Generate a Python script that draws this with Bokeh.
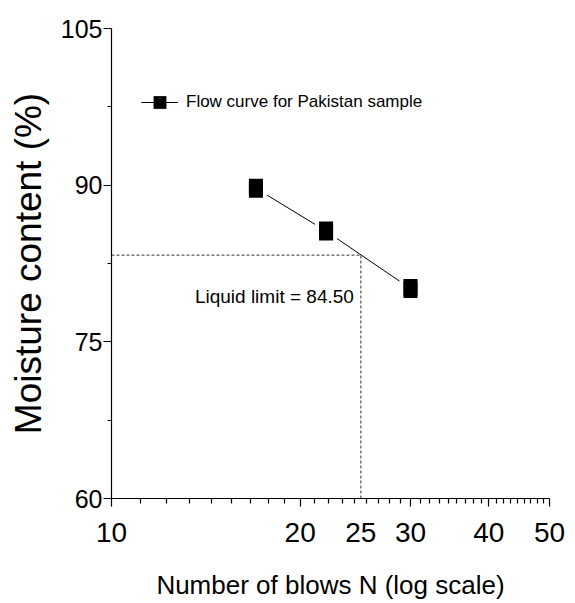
from bokeh.plotting import figure
from bokeh.models import (FixedTicker, Label, Legend, LegendItem, Range1d, LogAxis,
                          CustomLabelingPolicy)
from bokeh.embed import file_html
from bokeh.resources import INLINE

FONT = "Liberation Sans"

# ---- data ----
blows = [17, 22, 30]
moisture = [89.7, 85.6, 80.1]
series_label = "Flow curve for Pakistan sample"
ll_blows = 25
ll_moisture = 83.3
ll_text = "Liquid limit = 84.50"
x_ticks = [10, 20, 30, 40, 50]
x_labels = [10, 20, 25, 30, 40, 50]
y_ticks = [60, 75, 90, 105]
x_title = "Number of blows N (log scale)"
y_title = "Moisture content (%)"

x_minor = [a + k * (b - a) / 9 for a, b in zip(x_ticks[:-1], x_ticks[1:]) for k in range(1, 9)]
y_minor = [(a + b) / 2 for a, b in zip(y_ticks[:-1], y_ticks[1:])]

p = figure(frame_width=438, frame_height=470, x_axis_type="log",
           x_range=Range1d(x_ticks[0], x_ticks[-1]), y_range=Range1d(y_ticks[0], y_ticks[-1]),
           output_backend="svg", toolbar_location=None,
           min_border_left=111, min_border_top=28, min_border_right=20, min_border_bottom=105)
p.outline_line_color = None
p.xgrid.visible = False
p.ygrid.visible = False
p.background_fill_color = "white"

# dashed liquid-limit guides
p.line(x=[x_ticks[0], ll_blows], y=[ll_moisture, ll_moisture], line_color="#333333",
       line_width=1, line_dash="3 2")
p.line(x=[ll_blows, ll_blows], y=[y_ticks[0], ll_moisture], line_color="#333333",
       line_width=1, line_dash="3 2")

# flow curve
line_r = p.line(x=blows, y=moisture, line_color="black", line_width=1)
p.rect(x=blows, y=moisture, width=22, height=27, width_units="screen", height_units="screen",
       fill_color="white", line_color=None)
p.rect(x=blows, y=moisture, width=14, height=19, width_units="screen", height_units="screen",
       fill_color="black", line_color=None)
sq_r = p.scatter(x=blows, y=moisture, marker="square", size=14, fill_color="black", line_color=None)

legend = Legend(items=[LegendItem(label=series_label, renderers=[line_r, sq_r])],
                location=(30, 380), glyph_width=37, glyph_height=32, label_standoff=8,
                padding=0, margin=0, border_line_color=None, background_fill_alpha=0,
                label_text_font=FONT, label_text_font_size="17px", label_text_color="black")
p.add_layout(legend)

# x axis: tick marks only (nearest the frame); its labels are filtered out
xa = p.xaxis[0]
xa.ticker = FixedTicker(ticks=x_ticks, minor_ticks=x_minor)
xa.major_label_policy = CustomLabelingPolicy(
    code="const ii = [...indices]; for (const i of ii) { indices.unset(i) } return indices")
xa.major_label_text_font_size = "1px"
xa.major_label_standoff = 0
xa.minor_tick_out = 5

# x axis: labels (incl. 25) and title
xb = LogAxis(ticker=FixedTicker(ticks=x_labels, minor_ticks=[]),
             major_label_overrides={t: str(t) for t in x_labels})
xb.axis_line_color = None
xb.major_tick_line_color = None
xb.minor_tick_line_color = None
xb.major_tick_in = 0
xb.major_tick_out = 0
xb.minor_tick_in = 0
xb.minor_tick_out = 0
xb.major_label_text_font = FONT
xb.major_label_text_font_size = "28px"
xb.major_label_text_color = "black"
xb.major_label_standoff = 12
xb.axis_label = x_title
xb.axis_label_text_font = FONT
xb.axis_label_text_font_size = "26px"
xb.axis_label_text_font_style = "normal"
xb.axis_label_text_color = "black"
xb.axis_label_standoff = 25
p.add_layout(xb, "below")

ya = p.yaxis[0]
ya.ticker = FixedTicker(ticks=y_ticks, minor_ticks=y_minor)

for ax in (xa, ya):
    ax.axis_line_color = "black"
    ax.axis_line_width = 1.2
    ax.major_tick_line_color = "black"
    ax.minor_tick_line_color = "black"
    ax.major_tick_line_width = 1.2
    ax.minor_tick_line_width = 1.2
    ax.major_tick_in = 0
    ax.minor_tick_in = 0
    ax.major_tick_out = 8

ya.minor_tick_out = 4
ya.major_label_text_font = FONT
ya.major_label_text_color = "black"
ya.major_label_text_font_size = "25px"
ya.major_label_standoff = 1
ya.axis_label = y_title
ya.axis_label_text_font = FONT
ya.axis_label_text_font_style = "normal"
ya.axis_label_text_color = "black"
ya.axis_label_text_font_size = "37px"
ya.axis_label_standoff = 9

# liquid-limit note
p.add_layout(Label(x=ll_blows, y=ll_moisture, text=ll_text, text_align="right",
                   text_baseline="middle", x_offset=-7, y_offset=-41,
                   text_font=FONT, text_font_size="19px", text_color="black"))

open("out.html", "w").write(file_html(p, INLINE))
